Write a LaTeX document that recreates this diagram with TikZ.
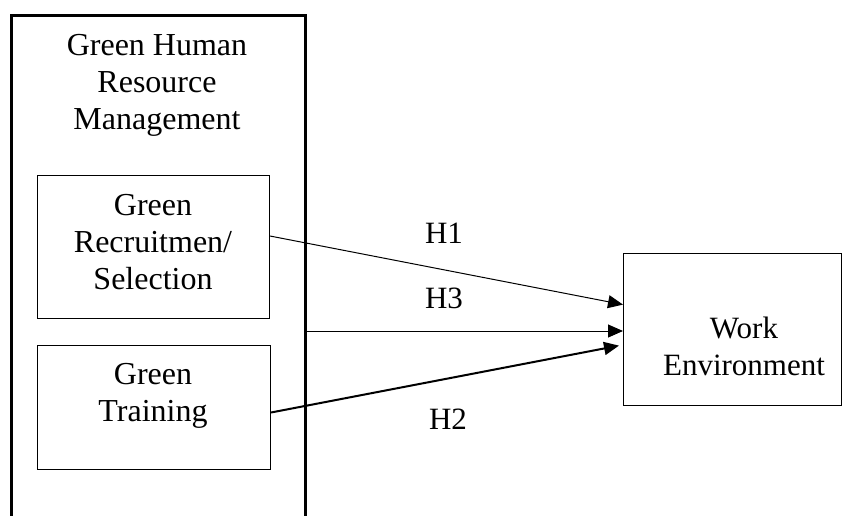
\documentclass[tikz,border=0pt]{standalone}
\usepackage{fontspec}
\setmainfont{Liberation Serif}
\usetikzlibrary{arrows.meta}
\tikzset{
  txt/.style={align=center, inner sep=0pt, font=\fontsize{31}{37}\selectfont},
  inbox/.style={draw, line width=1pt, anchor=north west, inner sep=0pt},
  arr/.style={-{Triangle[length=15pt,width=13pt]}, line width=1pt},
}
\begin{document}
\begin{tikzpicture}[x=1pt,y=-1pt]
\useasboundingbox (0,0) rectangle (843,515);
\clip (0,0) rectangle (843,515);
% outer box (open at bottom, runs off the page)
\node[draw, line width=3pt, anchor=north west, minimum width=294pt, minimum height=560pt, inner sep=0pt] (ghrm) at (10,14) {};
\node[txt, anchor=base, font=\fontsize{32}{37}\selectfont] (ghrmt) at (157,129) {Green Human\\Resource\\Management};
% inner boxes
\node[inbox, minimum width=232pt, minimum height=143pt] (rec) at (37,175) {};
\node[txt, anchor=base, font=\fontsize{32}{37}\selectfont] (rect) at (153,289) {Green\\Recruitmen/\\Selection};
\node[inbox, minimum width=233pt, minimum height=124pt] (tra) at (37,345) {};
\node[txt, anchor=base, font=\fontsize{32}{37}\selectfont] (trat) at (153,421) {Green\\Training};
% work environment
\node[draw, line width=1.2pt, anchor=north west, minimum width=218pt, minimum height=152pt, inner sep=0pt] (we) at (623,253) {};
\node[txt, anchor=base] (wet) at (744,375) {Work\\Environment};
% arrows
\coordinate (h1s) at ([yshift=11pt]rec.east);
\coordinate (h1e) at ([yshift=25pt]we.west);
\coordinate (h3s) at (ghrm.east |- 0,331);
\coordinate (h3e) at (we.west |- 0,331);
\coordinate (h2s) at ([yshift=-5pt]tra.east);
\coordinate (h2e) at ([xshift=-4pt,yshift=-16pt]we.west);
\draw[arr] (h1s) -- (h1e);
\draw[arr] (h3s) -- (h3e);
\draw[arr, line width=2pt] (h2s) -- (h2e);
% labels
\node[txt, anchor=base] (l1) at (444,243) {H1};
\node[txt, anchor=base] (l3) at (444,308) {H3};
\node[txt, anchor=base] (l2) at (448,429) {H2};
\end{tikzpicture}
\end{document}
